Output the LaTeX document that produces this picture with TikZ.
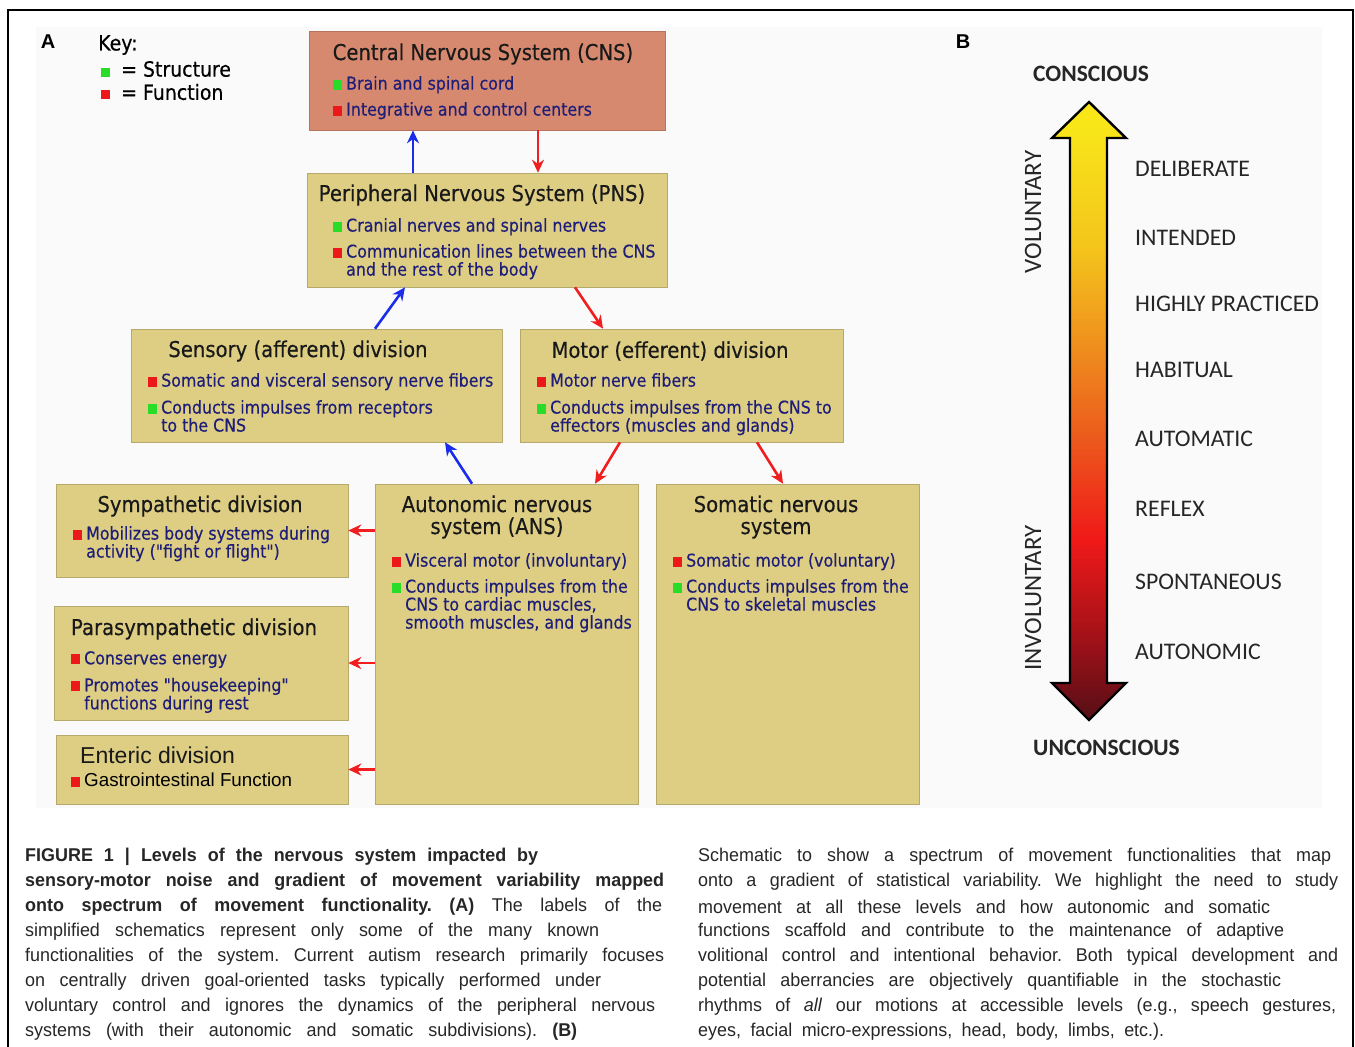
\documentclass[tikz,border=0pt]{standalone}
\usepackage{fontspec}
\setmainfont{Liberation Sans}
\newfontfamily\boxfont[FakeStretch=0.9, FakeBold=0.4]{DejaVu Sans}
\newfontfamily\gradfont{Carlito}
\newfontfamily\capfont[FakeStretch=0.97]{Liberation Sans}
\usetikzlibrary{arrows.meta}

\definecolor{cnsfill}{RGB}{214,137,110}
\definecolor{boxfill}{RGB}{222,206,132}
\definecolor{itemblue}{RGB}{30,30,120}
\definecolor{keygreen}{RGB}{40,220,40}
\definecolor{keyred}{RGB}{235,25,25}
\definecolor{affblue}{RGB}{25,45,235}
\definecolor{effred}{RGB}{240,30,30}
\definecolor{gryellow}{RGB}{248,230,25}
\definecolor{grgold}{RGB}{244,196,28}
\definecolor{grorange}{RGB}{238,130,30}
\definecolor{grorred}{RGB}{236,90,28}
\definecolor{grred}{RGB}{240,25,25}
\definecolor{grmaroon}{RGB}{150,16,24}
\definecolor{grdark}{RGB}{85,15,22}

\pgfdeclareverticalshading{spectrum}{100bp}{color(0bp)=(grdark); color(25bp)=(grdark); color(30.5bp)=(grmaroon); color(39.6bp)=(grred); color(47.8bp)=(grorred); color(53.4bp)=(grorange); color(63.1bp)=(grgold); color(73bp)=(gryellow); color(100bp)=(gryellow)}

\newcommand{\sq}[1]{\textcolor{#1}{\rule{9pt}{10pt}}\hspace{4pt}}
\newcommand{\hang}{\hspace*{13pt}}

\begin{document}
\frenchspacing
\begin{tikzpicture}[
    x=1pt, y=-1pt,
    >={Stealth[length=13pt, width=12pt]},
    box/.style={rectangle, draw=boxfill!82!black, line width=0.6pt, fill=boxfill, inner sep=0pt},
    ttl/.style={font=\boxfont\fontsize{21.8}{22}\selectfont, text=black!90, inner sep=0pt, align=center},
    items/.style={font=\boxfont\fontsize{17.6}{18}\selectfont, text=itemblue, inner sep=0pt, align=left, anchor=north west},
    keysq/.style={rectangle, inner sep=0pt, minimum size=9pt},
    aff/.style={->, line width=2.6pt, draw=affblue},
    eff/.style={->, line width=2.6pt, draw=effred},
    lvl/.style={font=\gradfont\fontsize{23.8}{26}\selectfont, text=black!85, anchor=west, inner sep=0pt},
    captxt/.style={font=\capfont\fontsize{18.5}{20}\selectfont, text=black!85, anchor=west, inner sep=0pt}
]
\useasboundingbox (0,0) rectangle (1355,1047);

% Frame and panel ground
\fill[black!2] (36,27) rectangle (1322,808);
\draw[line width=2pt] (8,1047) -- (8,10) -- (1353,10) -- (1353,1047);

% Panel A: key
\node[font=\bfseries\fontsize{20}{22}\selectfont, inner sep=0pt] (labA) at (48,42) {A};
\node[font=\boxfont\fontsize{21}{22}\selectfont, anchor=west, inner sep=0pt] (key) at (98,45) {Key:};
\node[keysq, fill=keygreen] (kgreen) at (105.5,72) {};
\node[keysq, fill=keyred] (kred) at (105.5,94) {};
\node[font=\boxfont\fontsize{21}{22}\selectfont, anchor=west, inner sep=0pt] (kstruct) at (121,69) {= Structure};
\node[font=\boxfont\fontsize{21}{22}\selectfont, anchor=west, inner sep=0pt] (kfunc) at (121,92) {= Function};

% Boxes
\node[box, fill=cnsfill, draw=cnsfill!85!black, minimum width=356pt, minimum height=99pt] (cns) at (487,80.5) {};
\node[box, minimum width=360pt, minimum height=114pt] (pns) at (487,230) {};
\node[box, minimum width=371pt, minimum height=113pt] (sens) at (316.5,385.5) {};
\node[box, minimum width=323pt, minimum height=113pt] (mot) at (681.5,385.5) {};
\node[box, minimum width=292pt, minimum height=93pt] (symp) at (202,530.5) {};
\node[box, minimum width=294pt, minimum height=114pt] (para) at (201,663) {};
\node[box, minimum width=292pt, minimum height=69pt] (ent) at (202,769.5) {};
\node[box, minimum width=263pt, minimum height=320pt] (ans) at (506.5,644) {};
\node[box, minimum width=263pt, minimum height=320pt] (som) at (787.5,644) {};

% Box texts
\node[ttl] (cnsT) at (483,54) {Central Nervous System (CNS)};
\node[items] (cnsL) at (333,76) {\sq{keygreen}Brain and spinal cord\\[8pt]\sq{keyred}Integrative and control centers};

\node[ttl] (pnsT) at (482,195) {Peripheral Nervous System (PNS)};
\node[items] (pnsL) at (333,218) {\sq{keygreen}Cranial nerves and spinal nerves\\[8pt]\sq{keyred}Communication lines between the CNS\\\hang and the rest of the body};

\node[ttl] (sensT) at (298,351) {Sensory (afferent) division};
\node[items] (sensL) at (148,373) {\sq{keyred}Somatic and visceral sensory nerve fibers\\[9pt]\sq{keygreen}Conducts impulses from receptors\\\hang to the CNS};

\node[ttl] (motT) at (670,351) {Motor (efferent) division};
\node[items] (motL) at (537,373) {\sq{keyred}Motor nerve fibers\\[9pt]\sq{keygreen}Conducts impulses from the CNS to\\\hang effectors (muscles and glands)};

\node[ttl] (sympT) at (200,506) {Sympathetic division};
\node[items] (sympL) at (73,526) {\sq{keyred}Mobilizes body systems during\\\hang activity ("fight or flight")};

\node[ttl] (ansT) at (497,517) {Autonomic nervous\\system (ANS)};
\node[items] (ansL) at (392,553) {\sq{keyred}Visceral motor (involuntary)\\[8pt]\sq{keygreen}Conducts impulses from the\\\hang CNS to cardiac muscles,\\\hang smooth muscles, and glands};

\node[ttl] (somT) at (776,517) {Somatic nervous\\system};
\node[items] (somL) at (673,553) {\sq{keyred}Somatic motor (voluntary)\\[8pt]\sq{keygreen}Conducts impulses from the\\\hang CNS to skeletal muscles};

\node[ttl] (paraT) at (194,629) {Parasympathetic division};
\node[items] (paraL) at (71,651) {\sq{keyred}Conserves energy\\[9pt]\sq{keyred}Promotes "housekeeping"\\\hang functions during rest};

\node[ttl, font=\fontsize{23}{24}\selectfont, anchor=west] (entT) at (80,755) {Enteric division};
\node[items, font=\fontsize{18.8}{20}\selectfont, text=black] (entL) at (71,773) {\sq{keyred}Gastrointestinal Function};

% Arrows
\draw[aff] ([xshift=-74pt]pns.north) -- ([xshift=-74pt]cns.south);
\draw[eff] ([xshift=51pt]cns.south) -- ([xshift=51pt]pns.north);
\draw[aff] ([xshift=58.5pt]sens.north) -- ([xshift=-82pt]pns.south);
\draw[eff] ([xshift=88pt]pns.south) -- ([xshift=-78.5pt]mot.north);
\draw[aff] ([xshift=-34.5pt]ans.north) -- ([xshift=128.5pt]sens.south);
\draw[eff] ([xshift=-61.5pt]mot.south) -- ([xshift=88.5pt]ans.north);
\draw[eff] ([xshift=75.5pt]mot.south) -- ([xshift=-4.5pt]som.north);
\draw[eff] (ans.west |- symp.east) -- (symp.east);
\draw[eff] (ans.west |- para.east) -- (para.east);
\draw[eff] (ans.west |- ent.east) -- (ent.east);

% Panel B
\node[font=\bfseries\fontsize{20}{22}\selectfont, inner sep=0pt] (labB) at (963,42) {B};
\shadedraw[shading=spectrum, draw=black, line width=2.4pt, line join=miter]
  (1089,102) -- (1126,138) -- (1107,138) -- (1107,683) -- (1126,683) -- (1089,720)
  -- (1052,683) -- (1070,683) -- (1070,138) -- (1052,138) -- cycle;
\node[lvl, font=\gradfont\bfseries\fontsize{23.5}{26}\selectfont] (consc) at (1033,74) {CONSCIOUS};
\node[lvl, font=\gradfont\bfseries\fontsize{23.5}{26}\selectfont] (unconsc) at (1033,748) {UNCONSCIOUS};
\node[lvl, anchor=center, rotate=90, font=\gradfont\fontsize{25}{26}\selectfont] (vol) at (1033,212) {VOLUNTARY};
\node[lvl, anchor=center, rotate=90, font=\gradfont\fontsize{25}{26}\selectfont] (invol) at (1033,598) {INVOLUNTARY};
\node[lvl] (l1) at (1135,169) {DELIBERATE};
\node[lvl] (l2) at (1135,238) {INTENDED};
\node[lvl] (l3) at (1135,304) {HIGHLY PRACTICED};
\node[lvl] (l4) at (1135,370) {HABITUAL};
\node[lvl] (l5) at (1135,439) {AUTOMATIC};
\node[lvl] (l6) at (1135,509) {REFLEX};
\node[lvl] (l7) at (1135,582) {SPONTANEOUS};
\node[lvl] (l8) at (1135,652) {AUTONOMIC};

% Caption
\node[captxt] (cl1) at (25,857) {\makebox[513pt][s]{\bfseries FIGURE 1 | Levels of the nervous system impacted by}};
\node[captxt] (cl2) at (25,882) {\makebox[639pt][s]{\bfseries sensory-motor noise and gradient of movement variability mapped}};
\node[captxt] (cl3) at (25,907) {\makebox[637pt][s]{\textbf{onto spectrum of movement functionality. (A)} The labels of the}};
\node[captxt] (cl4) at (25,932) {\makebox[574pt][s]{simplified schematics represent only some of the many known}};
\node[captxt] (cl5) at (25,957) {\makebox[639pt][s]{functionalities of the system. Current autism research primarily focuses}};
\node[captxt] (cl6) at (25,982) {\makebox[576pt][s]{on centrally driven goal-oriented tasks typically performed under}};
\node[captxt] (cl7) at (25,1007) {\makebox[630pt][s]{voluntary control and ignores the dynamics of the peripheral nervous}};
\node[captxt] (cl8) at (25,1032) {\makebox[552pt][s]{systems (with their autonomic and somatic subdivisions). \textbf{(B)}}};
\node[captxt] (cr1) at (698,857) {\makebox[633pt][s]{Schematic to show a spectrum of movement functionalities that map}};
\node[captxt] (cr2) at (698,882) {\makebox[640pt][s]{onto a gradient of statistical variability. We highlight the need to study}};
\node[captxt] (cr3) at (698,907) {\makebox[572pt][s]{movement at all these levels and how autonomic and somatic}};
\node[captxt] (cr4) at (698,932) {\makebox[586pt][s]{functions scaffold and contribute to the maintenance of adaptive}};
\node[captxt] (cr5) at (698,957) {\makebox[640pt][s]{volitional control and intentional behavior. Both typical development and}};
\node[captxt] (cr6) at (698,982) {\makebox[583pt][s]{potential aberrancies are objectively quantifiable in the stochastic}};
\node[captxt] (cr7) at (698,1007) {\makebox[638pt][s]{rhythms of \textit{all} our motions at accessible levels (e.g., speech gestures,}};
\node[captxt] (cr8) at (698,1032) {\makebox[466pt][s]{eyes, facial micro-expressions, head, body, limbs, etc.).}};
\end{tikzpicture}
\end{document}
